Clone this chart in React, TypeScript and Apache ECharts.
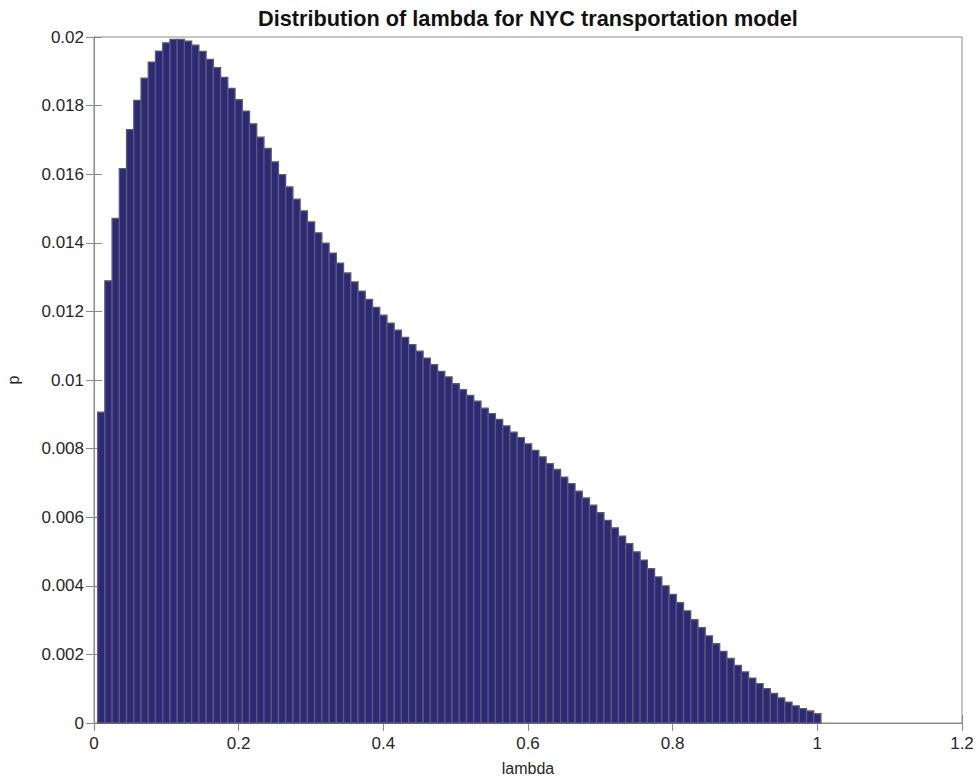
import React, { useEffect, useRef } from "react";
import * as echarts from "echarts";

// Histogram of lambda: bin width 0.01, bins centred at 0.01 … 1.00
const BIN_WIDTH = 0.01;
const probabilities: number[] = [
  0.00906, 0.01289, 0.01471, 0.01616, 0.0173, 0.01815, 0.0188, 0.01927, 0.01959, 0.01983,
  0.01993, 0.01993, 0.01988, 0.01976, 0.01958, 0.01935, 0.01911, 0.01882, 0.0185, 0.01817,
  0.01784, 0.01747, 0.01708, 0.01675, 0.01636, 0.01599, 0.01563, 0.01527, 0.01493, 0.01461,
  0.01429, 0.01399, 0.0137, 0.01341, 0.01312, 0.01286, 0.01259, 0.01235, 0.01212, 0.01189,
  0.01166, 0.01145, 0.01124, 0.01103, 0.01084, 0.01064, 0.01045, 0.01025, 0.01009, 0.00989,
  0.00972, 0.00955, 0.00938, 0.00918, 0.00902, 0.00885, 0.00866, 0.00848, 0.00832, 0.00814,
  0.00795, 0.00776, 0.00756, 0.00739, 0.00717, 0.00698, 0.00676, 0.00656, 0.00635, 0.00613,
  0.00591, 0.00569, 0.00545, 0.00523, 0.00499, 0.00475, 0.0045, 0.00426, 0.004, 0.00375,
  0.00351, 0.00327, 0.00301, 0.00278, 0.00254, 0.00231, 0.00209, 0.00188, 0.00168, 0.00149,
  0.00131, 0.00115, 0.001, 0.00086, 0.00073, 0.00061, 0.0005, 0.00042, 0.00035, 0.00027,
];
const binCenters: number[] = probabilities.map((_, i) => +((i + 1) * BIN_WIDTH).toFixed(2));

const xTickLabels = ["0", "0.2", "0.4", "0.6", "0.8", "1", "1.2"];
const yTickLabels = [
  "0", "0.002", "0.004", "0.006", "0.008", "0.01", "0.012", "0.014", "0.016", "0.018", "0.02",
];

const TITLE = "Distribution of lambda for NYC transportation model";
const X_NAME = "lambda";
const Y_NAME = "p";

const FONT = "'Liberation Sans', Arial, Helvetica, sans-serif";

export default function App() {
  const ref = useRef<HTMLDivElement>(null);

  useEffect(() => {
    if (!ref.current) return;
    const chart = echarts.init(ref.current, null, { renderer: "svg" });

    const gridLeft = 94;
    const gridRight = 14;
    const gridTop = 37;
    const gridBottom = 55;

    const axisColor = "#8c8c8c";
    const labelStyle = { color: "#262626", fontSize: 17, fontFamily: FONT };

    const option: any = {
      animation: false,
      backgroundColor: "#ffffff",
      textStyle: { fontFamily: FONT },
      graphic: [
        {
          type: "text",
          x: gridLeft + (976 - gridLeft - gridRight) / 2,
          y: 18,
          style: {
            text: TITLE,
            fill: "#111111",
            font: `bold 21.7px ${FONT}`,
            textAlign: "center",
            textVerticalAlign: "middle",
          },
        },
      ],
      grid: {
        left: gridLeft,
        right: gridRight,
        top: gridTop,
        bottom: gridBottom,
        containLabel: false,
        outerBoundsMode: "none",
        show: true,
        borderColor: axisColor,
        borderWidth: 1,
        backgroundColor: "transparent",
      },
      xAxis: [
        {
          type: "value",
          min: 0,
          max: 1.2,
          interval: 0.2,
          name: X_NAME,
          nameLocation: "middle",
          nameGap: 37,
          nameTextStyle: { color: "#262626", fontSize: 16, fontFamily: FONT },
          axisLine: { show: true, lineStyle: { color: axisColor, width: 1 } },
          axisTick: { show: true, inside: true, length: 8, lineStyle: { color: axisColor } },
          axisLabel: {
            ...labelStyle,
            margin: 12,
            formatter: (v: number) => xTickLabels[Math.round(v / 0.2)] ?? "",
          },
          splitLine: { show: false },
        },
        {
          type: "value",
          position: "top",
          min: 0,
          max: 1.2,
          interval: 0.2,
          axisLine: { show: true, lineStyle: { color: axisColor, width: 1 } },
          axisTick: { show: true, inside: true, length: 8, lineStyle: { color: axisColor } },
          axisLabel: { show: false },
          splitLine: { show: false },
        },
      ],
      yAxis: [
        {
          type: "value",
          min: 0,
          max: 0.02,
          interval: 0.002,
          name: Y_NAME,
          nameLocation: "middle",
          nameGap: 73,
          nameRotate: 90,
          nameTextStyle: { color: "#262626", fontSize: 16, fontFamily: FONT },
          axisLine: { show: true, lineStyle: { color: axisColor, width: 1 } },
          axisTick: { show: true, inside: true, length: 8, lineStyle: { color: axisColor } },
          axisLabel: {
            ...labelStyle,
            margin: 10,
            formatter: (v: number) => yTickLabels[Math.round(v / 0.002)] ?? "",
          },
          splitLine: { show: false },
        },
        {
          type: "value",
          position: "right",
          min: 0,
          max: 0.02,
          interval: 0.002,
          axisLine: { show: true, lineStyle: { color: axisColor, width: 1 } },
          axisTick: { show: true, inside: true, length: 8, lineStyle: { color: axisColor } },
          axisLabel: { show: false },
          splitLine: { show: false },
        },
      ],
      series: [
        {
          type: "custom",
          xAxisIndex: 0,
          yAxisIndex: 0,
          data: binCenters.map((c, i) => [c, probabilities[i]]),
          renderItem: (params: any, api: any) => {
            const x = api.value(0);
            const y = api.value(1);
            const p0 = api.coord([x - BIN_WIDTH / 2, y]);
            const p1 = api.coord([x + BIN_WIDTH / 2, 0]);
            return {
              type: "rect",
              shape: { x: p0[0], y: p0[1], width: p1[0] - p0[0], height: p1[1] - p0[1] },
              style: { fill: "#2c2978", stroke: "#5b5b6b", lineWidth: 1.3 },
            };
          },
        },
      ],
    };

    chart.setOption(option);
    return () => chart.dispose();
  }, []);

  return (
    <div
      ref={ref}
      style={{ position: "fixed", left: 0, top: 0, width: 976, height: 778 }}
    />
  );
}
